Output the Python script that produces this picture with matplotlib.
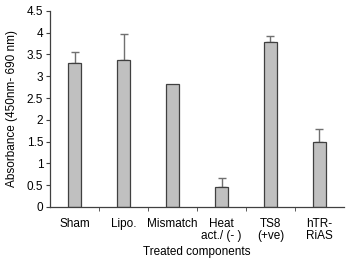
import matplotlib
matplotlib.use("Agg")
import matplotlib.pyplot as plt
import numpy as np

plt.rcParams['font.family'] = ['Liberation Sans', 'DejaVu Sans']

categories = ["Sham", "Lipo.", "Mismatch", "Heat\nact./ (- )", "TS8\n(+ve)", "hTR-\nRiAS"]
values = [3.30, 3.37, 2.83, 0.45, 3.78, 1.50]
errors = [0.25, 0.60, np.nan, 0.21, 0.15, 0.28]
yticks = [0, 0.5, 1, 1.5, 2, 2.5, 3, 3.5, 4, 4.5]
ytick_labels = ["0", "0.5", "1", "1.5", "2", "2.5", "3", "3.5", "4", "4.5"]

fs = 8.5
fig = plt.figure(figsize=(3.46, 2.60), dpi=100)
ax = fig.add_axes([0.145, 0.204, 0.849, 0.754])
x = np.arange(len(categories))
ax.bar(x, values, width=0.27, color="#c0c0c0", edgecolor="#404040", linewidth=0.9, zorder=2)
err = np.array(errors, dtype=float)
mask = ~np.isnan(err)
ax.errorbar(x[mask], np.array(values)[mask], yerr=[np.zeros(mask.sum()), err[mask]], fmt="none",
            ecolor="#707070", elinewidth=1.0, capsize=3, capthick=1.0, zorder=1)

ax.set_xlim(-0.5, 5.5)
ax.set_ylim(0, 4.5)
ax.set_yticks(yticks)
ax.set_yticklabels(ytick_labels, fontsize=fs)
ax.set_xticks(x)
ax.set_xticklabels(categories, fontsize=fs, linespacing=1.0)
ax.tick_params(axis="x", length=0, pad=8)
ax.set_xticks(np.arange(0.5, 5.5, 1), minor=True)
ax.tick_params(axis="x", which="minor", length=3, direction="out", color="#404040")
ax.tick_params(axis="y", length=3, direction="out", color="#404040", pad=2)
for s in ["top", "right"]:
    ax.spines[s].set_visible(False)
for s in ["left", "bottom"]:
    ax.spines[s].set_color("#404040")
    ax.spines[s].set_linewidth(0.9)
ax.set_ylabel("Absorbance (450nm- 690 nm)", fontsize=fs, labelpad=6)
ax.set_xlabel("Treated components", fontsize=fs, labelpad=3)

fig.savefig("out.png", dpi=100)
